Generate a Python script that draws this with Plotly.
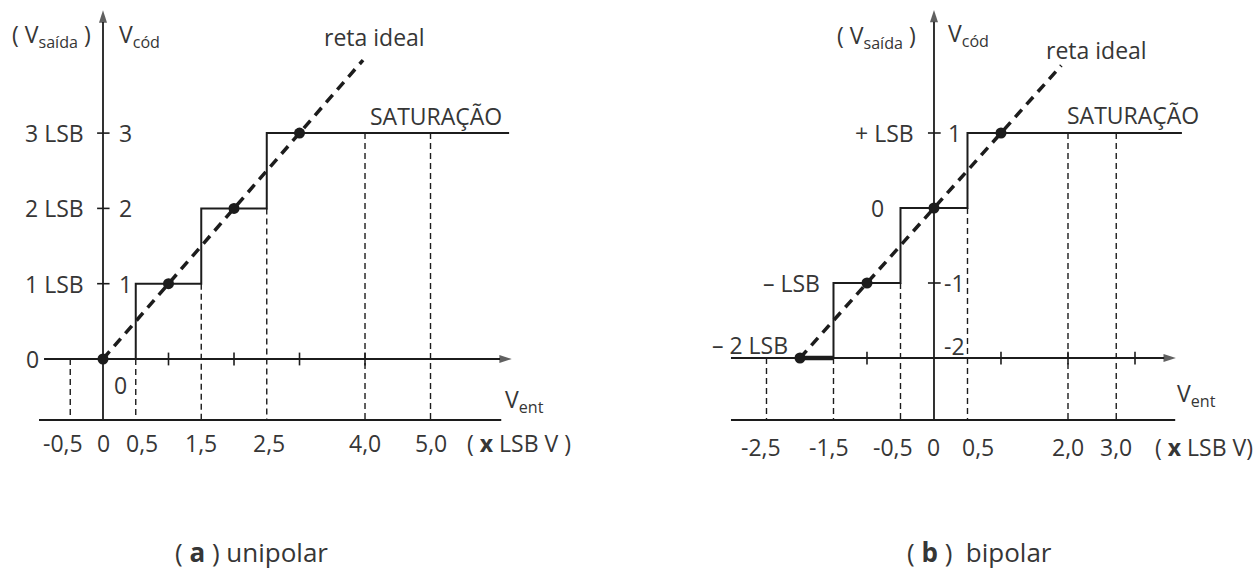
import plotly.graph_objects as go

# ---------------- data : (a) unipolar ----------------
uni_codes = [0, 1, 2, 3]                      # output codes (x LSB)
uni_transitions = [0.5, 1.5, 2.5]             # input transition points (x LSB V)
uni_start = 0.0
uni_sat_end = 6.2
uni_ideal_x = [0.0, 3.97]
uni_guide_x = [-0.5, 0.5, 1.5, 2.5, 4.0, 5.0]
uni_guide_top = [0, 0, 1, 2, 3, 3]
uni_xlabel_vals = [-0.5, 0, 0.5, 1.5, 2.5, 4.0, 5.0]
uni_xlabel_text = ["-0,5", "0", "0,5", "1,5", "2,5", "4,0", "5,0"]
uni_xtick_vals = [1, 2, 3, 4]
uni_ytick_vals = [1, 2, 3]
uni_ytick_text = ["1", "2", "3"]
uni_ylabel_text = ["1 LSB", "2 LSB", "3 LSB"]

# ---------------- data : (b) bipolar ----------------
bip_codes = [-2, -1, 0, 1]
bip_transitions = [-1.5, -0.5, 0.5]
bip_start = -2.0
bip_sat_end = 3.7
bip_ideal_x = [-2.0, 1.9]
bip_guide_x = [-2.5, -1.5, -0.5, 0.5, 2.0, 2.72]
bip_guide_top = [-2, -2, -1, 0, 1, 1]
bip_xlabel_vals = [-2.5, -1.5, -0.5, 0, 0.5, 2.0, 2.72]
bip_xlabel_text = ["-2,5", "-1,5", "-0,5", "0", "0,5", "2,0", "3,0"]
bip_xtick_vals = [-1, 1, 2, 3]
bip_ytick_vals = [1, -1, -2]
bip_ytick_text = ["1", "-1", "-2"]
bip_ylabel_vals = [1, 0, -1, -2]
bip_ylabel_text = ["+ LSB", "0", "\u2013 LSB", "\u2013 2 LSB"]

# ---------------- styles ----------------
FONT = "Open Sans"
TXT = "#363636"
INK = "#1c1c1c"
FS = 23

fig = go.Figure()


def step_path(start, transitions, codes, end):
    xs, ys = [start], [codes[0]]
    for t, c0, c1 in zip(transitions, codes[:-1], codes[1:]):
        xs += [t, t]
        ys += [c0, c1]
    xs.append(end)
    ys.append(codes[-1])
    return xs, ys


def guides(xv, top, bottom):
    xs, ys = [], []
    for x, t in zip(xv, top):
        xs += [x, x, None]
        ys += [t, bottom, None]
    return xs, ys


def ticks_x(vals, y0, h):
    xs, ys = [], []
    for v in vals:
        xs += [v, v, None]
        ys += [y0 - h, y0 + h, None]
    return xs, ys


def ticks_y(vals, x0, w1, w2):
    xs, ys = [], []
    for v in vals:
        xs += [x0 - w1, x0 + w2, None]
        ys += [v, v, None]
    return xs, ys


def line(xs, ys, xa, ya, width=2, dash=None, color=INK):
    fig.add_trace(go.Scatter(x=xs, y=ys, xaxis=xa, yaxis=ya, mode="lines",
                             line=dict(color=color, width=width, dash=dash),
                             hoverinfo="skip", showlegend=False))


def arrow(x0, y0, x1, y1, xa, ya):
    fig.add_trace(go.Scatter(
        x=[x0, x1], y=[y0, y1], xaxis=xa, yaxis=ya, mode="lines+markers",
        line=dict(color=INK, width=1.8),
        marker=dict(symbol="arrow", angleref="previous", size=[0, 13],
                    color=INK, line=dict(width=0)),
        hoverinfo="skip", showlegend=False))


def label(x, y, text, xa, ya, size=FS, xanchor="center", xshift=0, yshift=0):
    fig.add_annotation(x=x, y=y, xref=xa, yref=ya, text=text, showarrow=False,
                       xanchor=xanchor, yanchor="middle", xshift=xshift,
                       yshift=yshift,
                       font=dict(family=FONT, size=size, color=TXT))


def panel(xa, ya, codes, transitions, start, sat_end, ideal_x, gx, gtop,
          bottom, base, xt, yt_vals, axis_h, axis_v_top, lower_x, thick_first):
    gxs, gys = guides(gx, gtop, bottom)
    line(gxs, gys, xa, ya, width=1.4, dash="6px,4px")
    arrow(axis_h[0], base, axis_h[1], base, xa, ya)
    arrow(0, bottom, 0, axis_v_top, xa, ya)
    line(lower_x, [bottom, bottom], xa, ya, width=2)
    txs, tys = ticks_x(xt, base, 0.085)
    line(txs, tys, xa, ya, width=1.6)
    yxs, yys = ticks_y(yt_vals, 0, 0.09, 0.1)
    line(yxs, yys, xa, ya, width=1.6)
    sx, sy = step_path(start, transitions, codes, sat_end)
    line(sx, sy, xa, ya, width=2)
    if thick_first:
        line([start, transitions[0]], [codes[0], codes[0]], xa, ya, width=4.5)
    line(ideal_x, ideal_x, xa, ya, width=3.5, dash="10px,7px")
    fig.add_trace(go.Scatter(x=codes, y=codes, xaxis=xa, yaxis=ya,
                             mode="markers",
                             marker=dict(color=INK, size=11),
                             hoverinfo="skip", showlegend=False))


# (a) unipolar
panel("x", "y", uni_codes, uni_transitions, uni_start, uni_sat_end,
      uni_ideal_x, uni_guide_x, uni_guide_top, -0.81, 0,
      uni_xtick_vals, uni_ytick_vals, (-0.9, 6.24), 4.63, [-0.977, 6.08],
      False)
# (b) bipolar
panel("x2", "y2", bip_codes, bip_transitions, bip_start, bip_sat_end,
      bip_ideal_x, bip_guide_x, bip_guide_top, -2.827, -2,
      bip_xtick_vals, [1, -1], (-3.03, 3.61), 2.64, [-3.03, 3.6], True)

# ---------- labels (a) ----------
uni_shift = {"-0,5": -7, "0,5": 6, "2,5": 2}
for v, t in zip(uni_xlabel_vals, uni_xlabel_text):
    label(v, -1.116, t, "x", "y", xshift=uni_shift.get(t, 0))
for v, t in zip(uni_ytick_vals, uni_ytick_text):
    label(0.336, v, t, "x", "y")
for v, t in zip(uni_ytick_vals, uni_ylabel_text):
    label(-0.733, v, t, "x", "y")
label(-1.069, 0, "0", "x", "y")
label(0.26, -0.345, "0", "x", "y")
label(-0.78, 4.30, "( V<sub>saída</sub> )", "x", "y")
label(0.55, 4.30, "V<sub>cód</sub>", "x", "y")
label(4.15, 4.276, "reta ideal", "x", "y")
label(5.08, 3.227, "SATURAÇÃO", "x", "y")
label(6.43, -0.545, "V<sub>ent</sub>", "x", "y")
label(6.35, -1.116, "( <b>x</b> LSB V )", "x", "y")
label(2.26, -2.563, "( <b>a</b> ) unipolar", "x", "y", size=26)

# ---------- labels (b) ----------
bip_shift = {"-2,5": -5, "-1,5": -4, "-0,5": -7, "0,5": 11}
for v, t in zip(bip_xlabel_vals, bip_xlabel_text):
    label(v, -3.187, t, "x2", "y2", xshift=bip_shift.get(t, 0))
for v, t in zip(bip_ytick_vals, bip_ytick_text):
    label(0.30, v if v != -2 else -1.84, t, "x2", "y2")
bip_ylabel_x = [-0.746, -0.836, -2.134, -2.746]
for xv, v, t in zip(bip_ylabel_x, bip_ylabel_vals, bip_ylabel_text):
    label(xv, v if v != -2 else -1.82, t, "x2", "y2")
label(-0.851, 2.293, "( V<sub>saída</sub> )", "x2", "y2")
label(0.522, 2.307, "V<sub>cód</sub>", "x2", "y2")
label(2.418, 2.107, "reta ideal", "x2", "y2")
label(2.97, 1.24, "SATURAÇÃO", "x2", "y2")
label(3.925, -2.493, "V<sub>ent</sub>", "x2", "y2")
label(4.03, -3.187, "( <b>x</b> LSB V)", "x2", "y2")
label(0.672, -4.587, "( <b>b</b> )  bipolar", "x2", "y2", size=26)

hidden = dict(visible=False, showgrid=False, zeroline=False, fixedrange=True)
fig.update_layout(
    width=1256, height=569, autosize=False,
    margin=dict(l=0, r=0, t=0, b=0, pad=0),
    paper_bgcolor="white", plot_bgcolor="white",
    showlegend=False,
    xaxis=dict(domain=[0, 0.5], range=[-1.5725, 8.015], **hidden),
    yaxis=dict(domain=[0, 1], range=[-2.789, 4.7676], **hidden),
    xaxis2=dict(domain=[0.5, 1], range=[-4.567, 4.806], anchor="y2", **hidden),
    yaxis2=dict(domain=[0, 1], range=[-4.8133, 2.7733], anchor="x2", **hidden),
)

fig.write_html("out.html",
               config={"displayModeBar": False, "staticPlot": True},
               post_script="document.body.style.margin='0';"
                           "document.body.style.overflow='hidden';")
